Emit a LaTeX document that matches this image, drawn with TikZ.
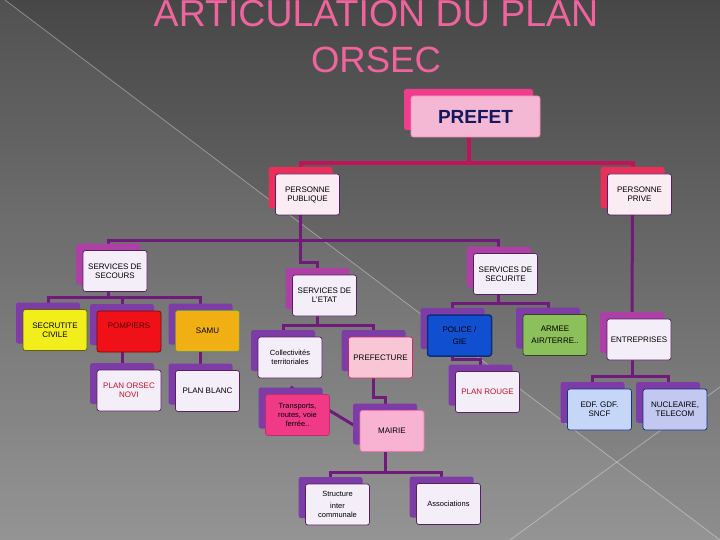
\documentclass[tikz,border=0pt]{standalone}
\usepackage{fontspec}
\setmainfont{Liberation Sans}
\usetikzlibrary{shadows}
\pgfdeclarelayer{fond}
\pgfsetlayers{fond,main}

\definecolor{fondhaut}{HTML}{474747}
\definecolor{fondbas}{HTML}{8E8E8E}
\definecolor{titre}{HTML}{F0649E}
\definecolor{marine}{HTML}{14185E}
\definecolor{lienrose}{HTML}{C0145A}
\definecolor{lienmauve}{HTML}{701A7C}
\definecolor{bordmauve}{HTML}{5A1E68}
\definecolor{blanclav}{HTML}{F3EEF7}
\definecolor{roseblanc}{HTML}{FBECF3}
\definecolor{dosprefet}{HTML}{F03C8C}
\definecolor{fondprefet}{HTML}{F4B8D4}
\definecolor{dosrouge}{HTML}{E8305A}
\definecolor{dosmagenta}{HTML}{AC40A4}
\definecolor{dosmauve}{HTML}{7E3CA6}
\definecolor{jaune}{HTML}{F2EE1C}
\definecolor{rougevif}{HTML}{F01018}
\definecolor{rougefonce}{HTML}{5A0008}
\definecolor{orange}{HTML}{F0B014}
\definecolor{bleupolice}{HTML}{0F4FD0}
\definecolor{vertarmee}{HTML}{8CC05A}
\definecolor{roseprefecture}{HTML}{F9C6D6}
\definecolor{rosemairie}{HTML}{F8B2D2}
\definecolor{rosevif}{HTML}{F03A88}
\definecolor{bleuedf}{HTML}{C6D6F8}
\definecolor{bleunucl}{HTML}{C2C8F0}
\definecolor{textrouge}{HTML}{C8102E}

\tikzset{
  carte/.style={draw=bordmauve, fill=blanclav, rounded corners=2.5pt, line width=0.7pt,
    minimum width=64pt, minimum height=41pt, inner sep=1pt, align=center,
    font=\fontsize{8}{9}\selectfont},
  petit/.style={font=\fontsize{7.5}{9}\selectfont},
  dos/.style={copy shadow={shadow xshift=-7pt, shadow yshift=7pt, fill=#1, draw=none}},
  lien/.style={draw=lienmauve, line width=3pt},
  lienhaut/.style={draw=lienrose, line width=4pt},
}

\begin{document}
\begin{tikzpicture}[x=1pt, y=-1pt]
\useasboundingbox (0,0) rectangle (720,540);

% title
\node[text=titre, align=center, inner sep=0pt, font=\fontsize{36.5}{46}\selectfont] (titre) at (376,36.5) {{\fontsize{37.5}{46}\selectfont ARTICULATION DU PLAN}\\ORSEC};

% boxes
\node[carte, dos=dosprefet, fill=fondprefet, draw=dosprefet!60!white, minimum width=129pt,
  text=marine, font=\fontsize{19}{20}\selectfont\bfseries] (prefet) at (475.5,116.5) {PREFET};

\node[carte, dos=dosrouge, fill=roseblanc] (publique) at (307.5,194.5) {PERSONNE\\PUBLIQUE};
\node[carte, dos=dosrouge, fill=roseblanc] (privee) at (639.5,194.5) {PERSONNE\\PRIVE};

\node[carte, dos=dosmagenta] (secours) at (115,271) {SERVICES DE\\SECOURS};
\node[carte, dos=dosmagenta] (securite) at (505.5,274) {SERVICES DE\\SECURITE};
\node[carte, dos=dosmagenta] (etat) at (324.5,295.5) {SERVICES DE\\L'ETAT};
\node[carte, dos=dosmagenta] (entreprises) at (639,339.5) {ENTREPRISES};

\node[carte, dos=dosmauve, fill=jaune, draw=jaune!40!black] (secutite) at (55,330) {SECRUTITE\\CIVILE};
\node[carte, dos=dosmauve, fill=rougevif, draw=rougevif!50!black, text=rougefonce, text depth=12pt] (pompiers) at (129,331.5) {POMPIERS};
\node[carte, dos=dosmauve, fill=orange, draw=vertarmee!80!black] (samu) at (207.5,331) {SAMU};
\node[carte, dos=dosmauve, text=textrouge] (novi) at (129,390.5) {PLAN ORSEC\\NOVI};
\node[carte, dos=dosmauve] (blanc) at (207.5,391) {PLAN BLANC};

\node[carte, dos=dosmauve, petit] (collect) at (290,357.5) {Collectivités\\territoriales};
\node[carte, dos=dosmauve, fill=roseprefecture, draw=rosevif!80!black] (prefecture) at (380.5,357.5) {PREFECTURE};
\node[carte, dos=dosmauve, fill=rosevif, draw=rosevif!80!black, petit] (transports) at (297.5,415) {Transports,\\routes, voie\\ferrée..};
\node[carte, dos=dosmauve, fill=rosemairie, draw=rosevif!70!white] (mairie) at (392,431) {MAIRIE};
\node[carte, dos=dosmauve, petit] (structure) at (337.5,504.5) {Structure\\[3pt]inter\\communale};
\node[carte, dos=dosmauve, petit] (assoc) at (448.5,504) {Associations};

\node[carte, dos=dosmauve, fill=bleupolice, draw=bleupolice!60!black, line width=1.5pt] (police) at (459.5,335.5) {POLICE /\\[3pt]GIE};
\node[carte, dos=dosmauve, fill=vertarmee, draw=vertarmee!35!black] (armee) at (555,335) {ARMEE\\[3pt]AIR/TERRE..};
\node[carte, dos=dosmauve, text=textrouge] (rouge) at (487.5,392) {PLAN ROUGE};

\node[carte, dos=dosmauve, fill=bleuedf, draw=bleupolice!70!black] (edf) at (599.5,409.5) {EDF. GDF.\\SNCF};
\node[carte, dos=dosmauve, fill=bleunucl, draw=bleupolice!60!black] (nucl) at (675,409.5) {NUCLEAIRE,\\TELECOM};

% centres of the back boxes
\foreach \n in {prefet,publique,privee,secours,securite,etat,entreprises,secutite,pompiers,samu,novi,blanc,collect,prefecture,transports,mairie,structure,assoc,police,armee,rouge,edf,nucl}
  \coordinate (\n-b) at ([shift={(-7,-7)}]\n.center);

\begin{pgfonlayer}{fond}
  \fill[top color=fondhaut, bottom color=fondbas] (0,0) rectangle (720,540);
  \fill[white, opacity=0.06] (0,0) -- (5,0) -- (720,540) -- (0,540) -- cycle;
  \draw[white, opacity=0.35, line width=0.8pt] (5,0) -- (720,540);
  \draw[white, opacity=0.35, line width=0.8pt] (510,540) -- (720,387);

  % connectors
  \draw[lienhaut] (prefet-b) -- ++(0,53.5) coordinate (bus1);
  \draw[lienhaut] (bus1) -| (publique-b);
  \draw[lienhaut] (bus1) -| (privee-b);

  \draw[lien] (publique-b) -- ++(0,53) coordinate (bus2);
  \draw[lien] (bus2) -| (secours-b);
  \draw[lien] (bus2) -| (securite-b);
  \draw[lien] (bus2) -- ++(0,22) -| (etat-b);
  \draw[lien] (privee-b) -- (entreprises-b);

  \draw[lien] (secours-b) -- ++(0,33) coordinate (bus3);
  \foreach \n in {secutite,pompiers,samu} \draw[lien] (bus3) -| (\n-b);
  \draw[lien] (pompiers-b) -- (novi-b);
  \draw[lien] (samu-b) -- (blanc-b);

  \draw[lien] (etat-b) -- ++(0,36.5) coordinate (bus4);
  \foreach \n in {collect,prefecture} \draw[lien] (bus4) -| (\n-b);
  \draw[lien] (prefecture-b) -- ++(0,46.5) -| (mairie-b);
  \draw[lien] ([yshift=21pt]transports-b) -- ([yshift=-20pt]mairie-b);
  \draw[lien] (mairie-b) -- ++(0,48) coordinate (bus5);
  \foreach \n in {structure,assoc} \draw[lien] (bus5) -| (\n-b);

  \draw[lien] (securite-b) -- ++(0,36) coordinate (bus6);
  \foreach \n in {police,armee} \draw[lien] (bus6) -| (\n-b);
  \draw[lien] (police-b) -- ++(0,30.5) -| (rouge-b);

  \draw[lien] (entreprises-b) -- ++(0,43.5) coordinate (bus7);
  \foreach \n in {edf,nucl} \draw[lien] (bus7) -| (\n-b);
\end{pgfonlayer}
\end{tikzpicture}
\end{document}
